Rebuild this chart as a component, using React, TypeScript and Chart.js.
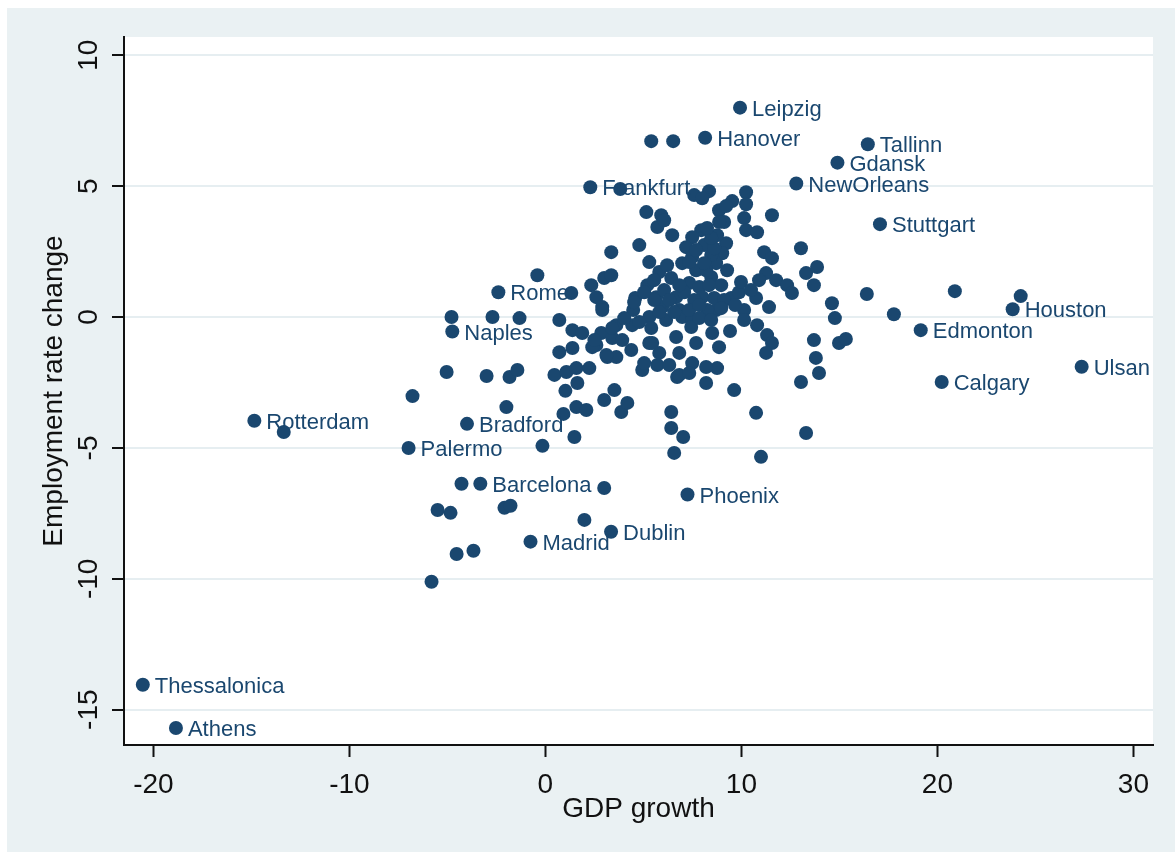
import React, { useEffect, useRef } from "react";
import { Chart, registerables } from "chart.js";

Chart.register(...registerables);

// Unlabelled cities
const gdpGrowth = [
  5.4, 6.52, 3.82, 7.59, 8.35, 8.0, 10.24, 10.24, 8.86, 9.53, 9.22, 10.14, 10.24, 10.8, 11.56, 13.04,
  11.16, 11.56, 11.26, 11.77, 12.33, 12.58, 13.3, 13.86, 13.7, 14.62, 14.77, 16.4, 17.78, 20.89, 24.25,
  10.75, 11.41, 9.22, 9.02, 8.71, 8.46, 8.97, 9.48, 7.95, 7.49, 7.18, 5.15, 5.91, 5.71, 6.06, 6.47,
  4.79, 3.36, -0.41, 1.32, 2.34, 3.0, 3.36, 2.6, 2.9, 4.58, 4.48, 5.81, 6.42, 6.98, 7.49, 5.65, 5.96,
  6.67, 6.83, 7.34, 7.69, 8.2, 7.85, 8.0, 8.71, -4.79, -2.7, -1.32, -5.04, -3.0, -1.83, -1.43, -6.78,
  -1.99, -0.15, 0.46, 1.02, 1.63, 1.07, 1.58, 2.24, 0.92, 1.58, 2.09, 1.48, 0.71, 1.38, 1.38, 1.88,
  2.6, 3.16, 3.62, 3.0, 3.52, 3.87, 4.18, 2.85, 3.41, 3.62, 4.43, 4.94, 5.71, 6.32, 6.72, 6.42, 6.42,
  7.03, 6.57, 5.3, 5.81, 2.9, 5.3, 6.16, 6.98, 7.49, 3.0, 1.99, -4.28, -5.5, -4.84, -2.09, -1.78,
  -4.53, -3.67, -5.81, -13.35, 9.42, 10.8, 11.31, 11.56, 11.26, 8.86, 8.76, 8.2, 9.63, 10.75, 11.0,
  13.3, 13.7, 13.8, 13.96, 13.04, 14.98, 15.33, 7.49, 6.83, 7.34, 3.41, 3.92, 4.38, 5.04, 5.4, 5.45,
  6.67, 6.83, 7.69, 7.44, 8.25, 8.51, 8.2, 3.11, 2.39, 2.5, 4.53, 5.2, 5.55, 6.06, 6.32, 7.08, 7.59,
  8.35, 8.61, 9.12, 7.34, 7.85, 8.46, 10.14, 9.88, 8.46, 8.1, 8.76, 9.12, 6.83, 5.3, 5.55, 9.27, 4.79,
  4.02, 0.71, 10.14, 5.04, 5.81, 6.57, 7.85, 8.97, 9.68, 8.1, 7.34, 6.21, 8.61, 7.69, 8.46, 8.86, 8.25,
  9.98, 10.49, 10.9,
];
const employmentChange = [
  6.72, 6.72, 4.89, 4.66, 4.81, 4.54, 4.77, 4.31, 4.08, 4.43, 4.24, 3.78, 3.32, 3.24, 3.89, 2.63,
  2.48, 2.25, 1.68, 1.41, 1.22, 0.92, 1.68, 1.91, 1.22, 0.53, -0.04, 0.88, 0.11, 0.99, 0.8,
  0.73, 0.38, 2.82, 2.44, 2.06, 1.53, 1.22, 0.73, 3.32, 3.05, 2.67, 4.01, 3.89, 3.44, 3.7, 3.13,
  2.75, 2.48, 1.6, 0.92, 1.22, 1.49, 1.6, 0.76, 0.38, 0.73, 0.27, 1.72, 1.49, 2.06, 2.29, 0.76, 0.38,
  0.76, 0.27, 1.3, 1.79, 1.79, 1.15, 0.76, 0.27, 0.0, 0.0, -0.04, -2.1, -2.25, -2.29, -2.02, -3.02,
  -3.44, -4.92, -2.21, -2.82, -2.52, -2.1, -1.95, -1.95, -3.7, -3.44, -3.55, -4.58, -1.34, -1.18, -0.5, -0.61,
  -1.07, -1.53, -1.53, -3.17, -2.79, -3.63, -3.28, -0.61, -0.8, -0.31, -0.31, -2.02, -1.83, -1.83, -2.29, -3.63, -4.24,
  -4.58, -5.19, -0.99, -1.37, 0.27, 0.0, -0.11, 0.0, -0.11, -6.53, -7.75, -6.37, -7.37, -7.48, -7.29, -7.21,
  -9.05, -8.93, -10.11, -4.39, -0.53, -0.31, -0.69, -0.99, -1.37, -1.15, -1.95, -2.52, -2.79, -3.66, -5.34,
  -4.43, -0.88, -1.56, -2.14, -2.48, -0.99, -0.84, -1.76, -2.21, -2.14, -0.42, -0.88, -1.26, -1.76, -0.42, -0.99,
  -0.76, -1.37, -0.99, -0.38, 0.27, -0.61, -1.91, -1.45, -1.15, -0.88, 0.57, 1.22, 0.65, 1.03, 0.65, 0.95, 0.65,
  1.22, 0.73, 0.65, 0.27, -0.04, -0.11, 0.27, 0.95, 2.37, 2.75, 3.13, 3.63, 1.22, 2.1, 1.41, 1.79, -0.19,
  -0.04, -0.11, -0.11, 0.95, 0.19, 0.19, 0.46, 0.34, 0.46, 2.06, 2.1, 1.98, 2.63, 2.56, 3.02, 3.63, 3.4,
  1.34, 1.03, 1.41,
];

// Labelled cities
const cityNames = [
  "Leipzig", "Hanover", "Tallinn", "Gdansk", "NewOrleans", "Stuttgart", "Frankfurt", "Rome", "Naples",
  "Rotterdam", "Palermo", "Bradford", "Barcelona", "Madrid", "Dublin", "Phoenix", "Thessalonica",
  "Athens", "Houston", "Edmonton", "Calgary", "Ulsan",
];
const cityGdp = [
  9.93, 8.15, 16.45, 14.9, 12.8, 17.07, 2.29, -2.4, -4.75, -14.85, -6.98, -4.0, -3.32, -0.76, 3.35,
  7.25, -20.54, -18.85, 23.84, 19.15, 20.22, 27.36,
];
const cityEmp = [
  8.0, 6.85, 6.6, 5.9, 5.1, 3.55, 4.96, 0.95, -0.55, -3.96, -5.0, -4.08, -6.37, -8.58, -8.2, -6.78,
  -14.05, -15.7, 0.3, -0.5, -2.48, -1.9,
];

const xTicks = [-20, -10, 0, 10, 20, 30];
const yTicks = [-15, -10, -5, 0, 5, 10];
const xTitle = "GDP growth";
const yTitle = "Employment rate change";

const NAVY = "#1A476F";
const BG = "#EAF1F3";
const FONT = "'Liberation Sans', Arial, sans-serif";

export default function App() {
  const ref = useRef<HTMLCanvasElement>(null);

  useEffect(() => {
    const canvas = ref.current!;
    const plugin = {
      id: "stataLook",
      beforeDraw(chart: any) {
        const { ctx, chartArea: a } = chart;
        ctx.save();
        ctx.fillStyle = BG;
        ctx.fillRect(0, 0, chart.width, chart.height);
        ctx.fillStyle = "#FFFFFF";
        ctx.fillRect(a.left, a.top, a.right - a.left, a.bottom - a.top);
        ctx.restore();
      },
      afterDraw(chart: any) {
        const { ctx, chartArea: a } = chart;
        const xs = chart.scales.x;
        const ys = chart.scales.y;
        ctx.save();
        ctx.fillStyle = "#111";
        ctx.font = `28px ${FONT}`;
        ctx.textAlign = "center";
        ctx.textBaseline = "alphabetic";
        for (const v of xTicks) {
          ctx.fillText(String(v), xs.getPixelForValue(v), 785);
        }
        for (const v of yTicks) {
          ctx.save();
          ctx.translate(90, ys.getPixelForValue(v));
          ctx.rotate(-Math.PI / 2);
          ctx.fillText(String(v), 0, 0);
          ctx.restore();
        }
        ctx.fillText(xTitle, (a.left + a.right) / 2, 809);
        ctx.save();
        ctx.translate(55, (a.top + a.bottom) / 2);
        ctx.rotate(-Math.PI / 2);
        ctx.fillText(yTitle, 0, 0);
        ctx.restore();

        // point labels
        ctx.fillStyle = NAVY;
        ctx.font = `22px ${FONT}`;
        ctx.textAlign = "left";
        ctx.textBaseline = "middle";
        for (let i = 0; i < cityNames.length; i++) {
          const px = xs.getPixelForValue(cityGdp[i]);
          const py = ys.getPixelForValue(cityEmp[i]);
          ctx.fillText(cityNames[i], px + 12, py + 2);
        }
        ctx.restore();
      },
    };

    const chart = new Chart(canvas, {
      type: "scatter",
      data: {
        datasets: [
          {
            data: gdpGrowth.map((x, i) => ({ x, y: employmentChange[i] })),
            backgroundColor: NAVY,
            borderColor: NAVY,
            borderWidth: 0,
            pointRadius: 7,
          },
          {
            data: cityGdp.map((x, i) => ({ x, y: cityEmp[i] })),
            backgroundColor: NAVY,
            borderColor: NAVY,
            borderWidth: 0,
            pointRadius: 7,
          },
        ],
      },
      options: {
        animation: false,
        responsive: false,
        devicePixelRatio: 1,
        layout: { padding: { left: 0, right: 22, top: 29, bottom: 0 } },
        plugins: { legend: { display: false }, tooltip: { enabled: false } },
        scales: {
          x: {
            type: "linear",
            min: -21.5,
            max: 31,
            afterBuildTicks: (s: any) => {
              s.ticks = xTicks.map((v) => ({ value: v }));
            },
            afterFit: (s: any) => {
              s.height = 107;
            },
            ticks: { display: false },
            grid: {
              drawOnChartArea: false,
              drawTicks: true,
              tickLength: 12,
              tickColor: "#111",
              tickWidth: 2,
            },
            border: { display: true, color: "#111", width: 2 },
          },
          y: {
            type: "linear",
            min: -16.35,
            max: 10.7,
            afterBuildTicks: (s: any) => {
              s.ticks = yTicks.map((v) => ({ value: v }));
            },
            afterFit: (s: any) => {
              s.width = 117;
            },
            ticks: { display: false },
            grid: {
              drawOnChartArea: true,
              color: "#E6EEF1",
              lineWidth: 2,
              drawTicks: true,
              tickLength: 12,
              tickColor: "#111",
              tickWidth: 2,
            },
            border: { display: true, color: "#111", width: 2 },
          },
        },
      },
      plugins: [plugin],
    });
    return () => chart.destroy();
  }, []);

  return (
    <div style={{ position: "absolute", left: 7, top: 8, width: 1168, height: 844 }}>
      <canvas ref={ref} width={1168} height={844} style={{ width: 1168, height: 844, display: "block" }} />
    </div>
  );
}
